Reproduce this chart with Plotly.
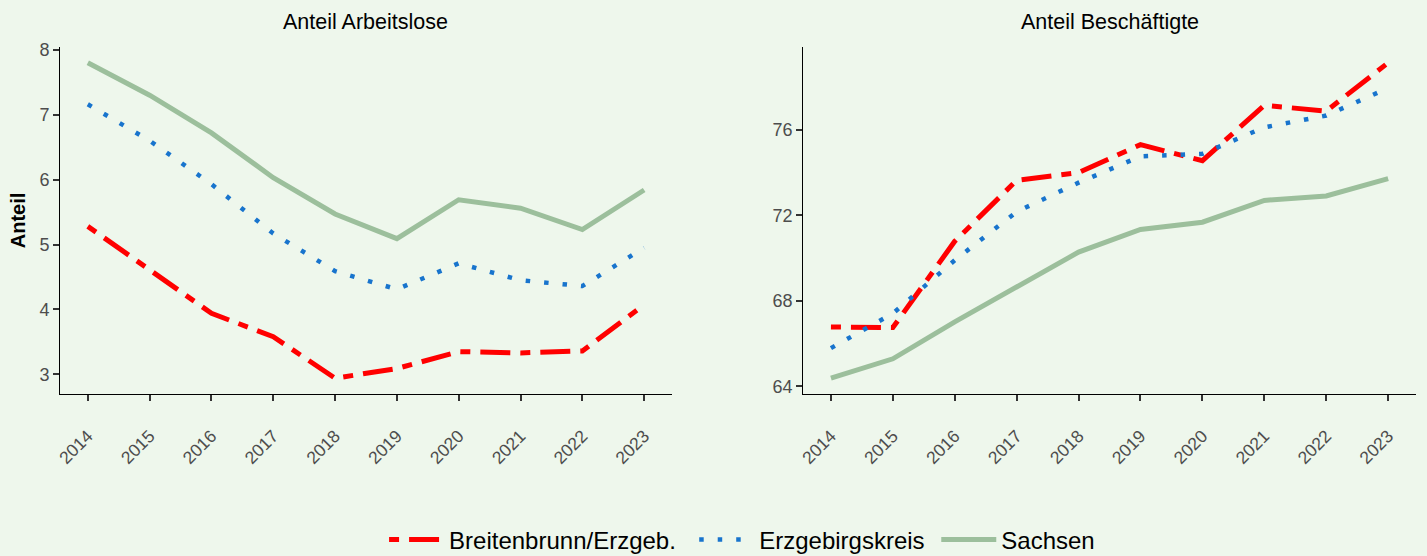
import plotly.graph_objects as go

years = [2014, 2015, 2016, 2017, 2018, 2019, 2020, 2021, 2022, 2023]
year_labels = [str(y) for y in years]

series_names = ["Breitenbrunn/Erzgeb.", "Erzgebirgskreis", "Sachsen"]

# Anteil Arbeitslose
breit_al = [5.28, 4.61, 3.94, 3.58, 2.94, 3.09, 3.35, 3.33, 3.36, 4.07]
erz_al = [7.16, 6.60, 5.93, 5.17, 4.59, 4.31, 4.71, 4.45, 4.36, 4.95]
sachsen_al = [7.80, 7.30, 6.72, 6.03, 5.47, 5.09, 5.69, 5.56, 5.23, 5.84]

# Anteil Beschäftigte
breit_b = [66.78, 66.75, 70.79, 73.64, 74.00, 75.31, 74.56, 77.15, 76.88, 79.14]
erz_b = [65.79, 67.41, 69.90, 72.17, 73.53, 74.76, 74.88, 76.12, 76.67, 77.96]
sachsen_b = [64.38, 65.29, 67.02, 68.67, 70.28, 71.34, 71.68, 72.70, 72.91, 73.72]

panel_titles = ["Anteil Arbeitslose", "Anteil Beschäftigte"]
left_ticks = [3, 4, 5, 6, 7, 8]
right_ticks = [64, 68, 72, 76]

BG = "#EEF7EC"
FONT = "Liberation Sans, Arial, sans-serif"
styles = [
    dict(color="#FF0000", width=5, dash="10px,10px,30px,10px"),
    dict(color="#1874CD", width=4.5, dash="4.5px,14px"),
    dict(color="#9CBF9C", width=5, dash="solid"),
]
pads = ["\u00a0\u00a0", "\u00a0", ""]

fig = go.Figure()
left_data = [breit_al, erz_al, sachsen_al]
right_data = [breit_b, erz_b, sachsen_b]
for i, name in enumerate(series_names):
    fig.add_trace(go.Scatter(x=years, y=left_data[i], mode="lines", name=name + pads[i],
                             line=styles[i], legendgroup=name, showlegend=True,
                             xaxis="x", yaxis="y"))
    fig.add_trace(go.Scatter(x=years, y=right_data[i], mode="lines", name=name,
                             line=styles[i], legendgroup=name, showlegend=False,
                             xaxis="x2", yaxis="y2"))


def exp_range(vals, f=0.05):
    lo, hi = min(vals), max(vals)
    d = (hi - lo) * f
    return [lo - d, hi + d]


xr = exp_range(years)
yl = exp_range(breit_al + erz_al + sachsen_al)
yr = exp_range(breit_b + erz_b + sachsen_b)

axis_common = dict(showline=True, linecolor="black", linewidth=1, showgrid=False,
                   zeroline=False, ticks="outside", ticklen=6, tickwidth=2,
                   tickcolor="#333333", automargin=False)
xfont = dict(size=17.5, color="#4D4D4D", family=FONT)
yfont = dict(size=18, color="#4D4D4D", family=FONT)

L_DOM = [0.0, 0.4513]
R_DOM = [0.548, 1.0]

fig.update_layout(
    width=1427, height=556,
    margin=dict(l=60, r=11, t=47, b=162, autoexpand=False),
    paper_bgcolor=BG, plot_bgcolor=BG,
    font=dict(family=FONT, color="black"),
    xaxis=dict(domain=L_DOM, range=xr, tickvals=years, ticktext=year_labels,
               tickangle=-45, ticklabelstandoff=18, anchor="y", tickfont=xfont, **axis_common),
    yaxis=dict(domain=[0, 1], range=yl, tickvals=left_ticks, anchor="x", tickfont=yfont,
               title=dict(text="<b>Anteil</b>", font=dict(size=20, color="black", family=FONT), standoff=8),
               **axis_common),
    xaxis2=dict(domain=R_DOM, range=xr, tickvals=years, ticktext=year_labels,
                tickangle=-45, ticklabelstandoff=18, anchor="y2", tickfont=xfont, **axis_common),
    yaxis2=dict(domain=[0, 1], range=yr, tickvals=right_ticks, anchor="x2", tickfont=yfont,
                **axis_common),
    legend=dict(orientation="h", x=0.503, xanchor="center",
                yref="container", y=(556 - 540) / 556, yanchor="middle",
                font=dict(size=24, color="black", family=FONT), bgcolor="rgba(0,0,0,0)",
                itemwidth=55),
    showlegend=True,
)

for dom, title in zip([L_DOM, R_DOM], panel_titles):
    fig.add_annotation(text=title, xref="paper", yref="paper",
                       x=(dom[0] + dom[1]) / 2, y=1, xanchor="center", yanchor="bottom",
                       yshift=11, showarrow=False, font=dict(size=21.5, color="black", family=FONT))

fig.write_html("out.html", post_script="document.body.style.margin='0';",
               config={"displayModeBar": False})
